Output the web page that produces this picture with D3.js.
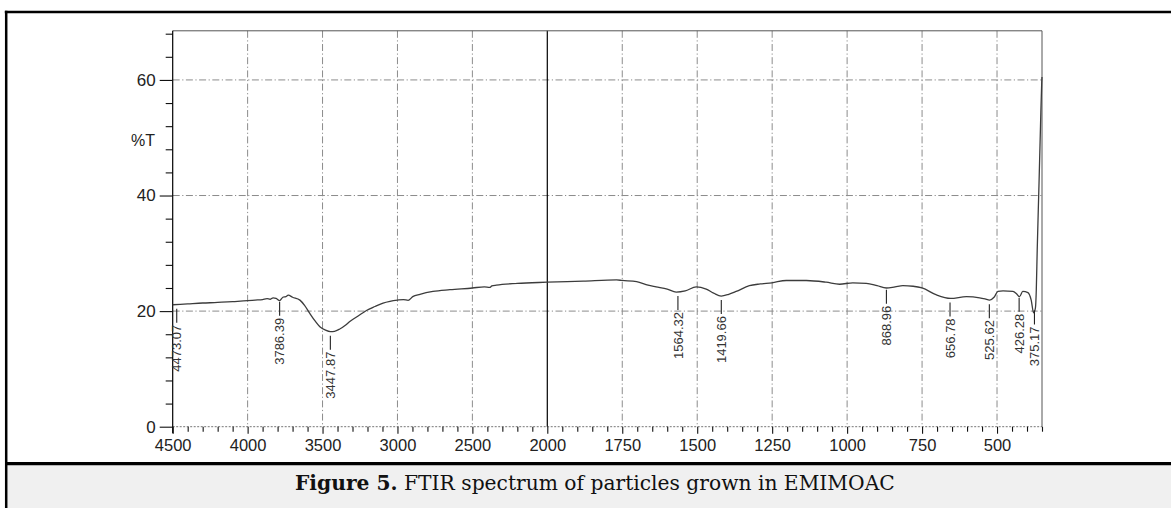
<!DOCTYPE html>
<html>
<head>
<meta charset="utf-8">
<script src="https://cdn.jsdelivr.net/npm/d3@7"></script>
<style>
  body { margin: 0; background: #fff; }
  svg { display: block; }
</style>
</head>
<body>
<div id="chart"></div>
<script>
// spectrum (wavenumber cm-1, %T)
const wavenumbers = [4500, 4400, 4300, 4200, 4100, 4000, 3950, 3900, 3870, 3850, 3830, 3810, 3786, 3765, 3745, 3729,
  3700, 3651, 3620, 3585, 3550, 3518, 3480, 3447, 3420, 3385, 3350, 3318, 3260, 3207, 3150, 3096, 3050, 3000,
  2960, 2929, 2898, 2850, 2763, 2650, 2500, 2420, 2385, 2370, 2340, 2200, 2000, 1880, 1769, 1750, 1702, 1664,
  1637, 1600, 1570, 1540, 1503, 1470, 1445, 1420, 1395, 1370, 1326, 1290, 1251, 1203, 1136, 1070, 1025, 981,
  936, 900, 869, 840, 814, 780, 750, 702, 655, 602, 558, 540, 525, 510, 497, 480, 447, 435, 425, 414, 397,
  386, 378, 372, 369, 366, 360, 355, 351, 350]
const transmittance = [21.1, 21.25, 21.4, 21.5, 21.65, 21.8, 21.9, 22.0, 22.15, 22.05, 22.3, 22.2, 21.8, 22.4, 22.5, 22.75,
  22.4, 21.9, 21.0, 19.6, 18.3, 17.3, 16.7, 16.45, 16.5, 16.9, 17.5, 18.2, 19.2, 20.1, 20.8, 21.4, 21.7, 21.9,
  22.0, 21.85, 22.5, 22.9, 23.4, 23.7, 24.0, 24.2, 24.1, 24.35, 24.5, 24.8, 25.0, 25.2, 25.4, 25.3, 25.1, 24.5,
  24.2, 23.8, 23.3, 23.5, 24.2, 23.8, 23.1, 22.6, 22.9, 23.4, 24.4, 24.7, 24.9, 25.3, 25.3, 25.0, 24.65, 24.9,
  24.8, 24.4, 24.0, 24.2, 24.4, 24.3, 24.0, 22.8, 22.2, 22.5, 22.3, 22.1, 21.9, 22.4, 23.4, 23.5, 23.4, 23.0, 22.5, 23.4, 23.2,
  21.9, 19.7, 20.5, 23.7, 30.5, 42, 52, 59.4, 60.5]

// labelled peaks
const peakLabels = ['4473.07', '3786.39', '3447.87', '1564.32', '1419.66', '868.96', '656.78', '525.62', '426.28', '375.17']
const peakWn = [4473.07, 3786.39, 3447.87, 1564.32, 1419.66, 868.96, 656.78, 525.62, 426.28, 375.17]
const peakT = [21.1, 22.3, 16.45, 23.3, 22.6, 24.4, 22.2, 21.9, 23.0, 20.8]

// axis ticks
const xMajor = [4500, 4000, 3500, 3000, 2500, 2000, 1750, 1500, 1250, 1000, 750, 500]
const yMajor = [0, 20, 40, 60]
const xGrid = [4000, 3500, 3000, 2500, 1750, 1500, 1250, 1000, 750, 500]

const W = 1171, H = 508
const pL = 172.7, pR = 1042, pT = 30.8, pB = 426.7

const svg = d3.select('#chart').append('svg').attr('width', W).attr('height', H)

// frame + caption box
svg.append('rect').attr('x', 6).attr('y', 463).attr('width', W).attr('height', 50).attr('fill', '#f0f0f0')
svg.append('line').attr('x1', 4.8).attr('x2', W).attr('y1', 12).attr('y2', 12).attr('stroke', '#000').attr('stroke-width', 2.5)
svg.append('line').attr('x1', 6.2).attr('x2', 6.2).attr('y1', 10.8).attr('y2', H).attr('stroke', '#000').attr('stroke-width', 2.5)
svg.append('line').attr('x1', 5).attr('x2', W).attr('y1', 463.6).attr('y2', 463.6).attr('stroke', '#000').attr('stroke-width', 3.2)

// x scale changes pace at 2000 like the instrument printout
const x = d3.scaleLinear().domain([4500, 2000, 350]).range([pL, 547.3, pR])
const y = d3.scaleLinear().domain([0, 68.5]).range([pB, pT])

const g = svg.append('g')
const dashGrid = '7,2.5,1.2,2.5'

// grid
g.selectAll('.vgrid').data(xGrid).join('line')
  .attr('x1', d => x(d)).attr('x2', d => x(d)).attr('y1', pT).attr('y2', pB)
  .attr('stroke', '#8c8c8c').attr('stroke-dasharray', dashGrid)
g.selectAll('.hgrid').data(yMajor.slice(1)).join('line')
  .attr('x1', pL).attr('x2', pR).attr('y1', d => y(d)).attr('y2', d => y(d))
  .attr('stroke', '#8c8c8c').attr('stroke-dasharray', dashGrid)
// bottom line is dotted as well
g.append('line').attr('x1', pL).attr('x2', pR).attr('y1', pB).attr('y2', pB)
  .attr('stroke', '#777').attr('stroke-dasharray', '2,1.5')
// 2000 break line
g.append('line').attr('x1', x(2000)).attr('x2', x(2000)).attr('y1', pT).attr('y2', pB)
  .attr('stroke', '#000').attr('stroke-width', 1.2)
// plot top / right border
g.append('path').attr('d', `M${pL},${pT}H${pR}V${pB}`).attr('fill', 'none').attr('stroke', '#555')

// minor ticks
const xMinor = d3.range(4500, 2000, -100).concat(d3.range(2000, 349, -50)).filter(v => !xMajor.includes(v))
const yMinor = d3.range(0, 69, 4).filter(v => !yMajor.includes(v))

const xMinorAxis = g.append('g').attr('transform', `translate(0,${pB})`)
  .call(d3.axisBottom(x).tickValues(xMinor).tickSize(5).tickFormat(''))
const xAxis = g.append('g').attr('transform', `translate(0,${pB})`)
  .call(d3.axisBottom(x).tickValues(xMajor).tickSize(7).tickPadding(6).tickFormat(d3.format('d')))
const yMinorAxis = g.append('g').attr('transform', `translate(${pL},0)`)
  .call(d3.axisLeft(y).tickValues(yMinor).tickSize(7).tickFormat(''))
const yAxis = g.append('g').attr('transform', `translate(${pL},0)`)
  .call(d3.axisLeft(y).tickValues(yMajor).tickSize(13).tickPadding(4).tickSizeOuter(0))

xMinorAxis.select('.domain').remove()
xAxis.select('.domain').remove()
yMinorAxis.select('.domain').remove()
yAxis.select('.domain').attr('d', `M0,${pB + 6.5}V${pT}`).attr('stroke-width', 1.2)
;[xMinorAxis, xAxis, yMinorAxis, yAxis].forEach(a => a.selectAll('line').attr('stroke', '#111').attr('stroke-width', 1.1))
xAxis.selectAll('text').attr('font-family', 'Liberation Sans, Arial, sans-serif').attr('font-size', 16.5).attr('fill', '#222')
yAxis.selectAll('text').attr('font-family', 'Liberation Sans, Arial, sans-serif').attr('font-size', 17).attr('fill', '#222')

// axis title
g.append('text').attr('x', 155).attr('y', 146).attr('text-anchor', 'end')
  .attr('font-family', 'Liberation Sans, Arial, sans-serif').attr('font-size', 16).attr('fill', '#222').text('%T')

// spectrum
const line = d3.line().x(d => x(d[0])).y(d => y(d[1])).curve(d3.curveMonotoneX)
g.append('path').datum(wavenumbers.map((w, i) => [w, transmittance[i]]))
  .attr('d', line).attr('fill', 'none').attr('stroke', '#3c3c3c').attr('stroke-width', 1.3)

// peak markers
const peaks = peakWn.map((w, i) => ({ w, t: peakT[i], label: peakLabels[i] }))
const pk = g.selectAll('.peak').data(peaks).join('g').attr('class', 'peak')
pk.append('line')
  .attr('x1', d => x(d.w)).attr('x2', d => x(d.w))
  .attr('y1', d => y(d.t) + 4).attr('y2', d => y(d.t) + 18)
  .attr('stroke', '#222').attr('stroke-width', 1.1)
pk.append('text')
  .attr('transform', d => `translate(${x(d.w)},${y(d.t) + 20}) rotate(-90)`)
  .attr('text-anchor', 'end').attr('dy', '0.36em')
  .attr('font-family', 'Liberation Sans, Arial, sans-serif').attr('font-size', 13).attr('fill', '#333')
  .text(d => d.label)

// caption
const cap = svg.append('text').attr('x', 295).attr('y', 490)
  .attr('font-family', 'DejaVu Serif, Liberation Serif, serif').attr('font-size', 20).attr('fill', '#111')
cap.append('tspan').attr('font-weight', 'bold').text('Figure 5.')
cap.append('tspan').text(' FTIR spectrum of particles grown in EMIMOAC')
const capW = cap.node().getComputedTextLength()
cap.attr('font-size', 20 * 600 / capW)
</script>
</body>
</html>
